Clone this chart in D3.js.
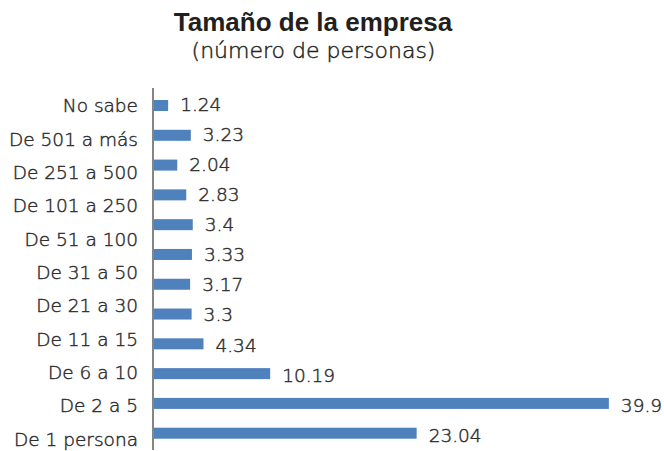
<!DOCTYPE html>
<html>
<head>
<meta charset="utf-8">
<script src="https://cdn.jsdelivr.net/npm/d3@7"></script>
<style>
  html, body { margin: 0; padding: 0; background: #ffffff; }
  svg { display: block; }
</style>
</head>
<body>
<svg id="chart" width="664" height="451"></svg>
<script>
// ---- data ----
const title = "Tamaño de la empresa";
const subtitle = "(número de personas)";
// category labels as printed (top to bottom)
const categories = ["No sabe", "De 501 a más", "De 251 a 500", "De 101 a 250", "De 51 a 100",
  "De 31 a 50", "De 21 a 30", "De 11 a 15", "De 6 a 10", "De 2 a 5", "De 1 persona"];
// bar values as printed (top to bottom)
const values = [1.24, 3.23, 2.04, 2.83, 3.4, 3.33, 3.17, 3.3, 4.34, 10.19, 39.9, 23.04];
const valueLabels = ["1.24", "3.23", "2.04", "2.83", "3.4", "3.33", "3.17", "3.3", "4.34", "10.19", "39.9", "23.04"];

// ---- layout ----
const svg = d3.select("#chart");
const axisX = 153;
const barH = 11;
const textColor = "#2e2e2e";
const barColor = "#4F81BD";
const lightFont = "'DejaVu Sans', sans-serif";

const x = d3.scaleLinear().domain([0, 40]).range([axisX + 1, axisX + 1 + 456]);
const yBar = d3.scalePoint().domain(d3.range(values.length)).range([105.5, 433.2]);
const yVal = d3.scalePoint().domain(d3.range(values.length)).range([111, 441.7]);
const yCat = d3.scalePoint().domain(categories).range([105.8, 439.2]);

function lightText(sel, size) {
  sel.attr("font-family", lightFont)
    .attr("font-weight", 300)
    .attr("font-size", size)
    .attr("fill", textColor)
    .attr("stroke", textColor)
    .attr("stroke-width", 0.45);
}

// title
svg.append("text")
  .attr("x", 313).attr("y", 30.7)
  .attr("text-anchor", "middle")
  .attr("font-family", "'Liberation Sans', Arial, sans-serif")
  .attr("font-weight", "bold")
  .attr("font-size", 26)
  .attr("fill", "#231f20")
  .text(title);
svg.append("text")
  .attr("x", 313.5).attr("y", 57.5)
  .attr("text-anchor", "middle")
  .call(lightText, 22)
  .attr("fill", "#231f20").attr("stroke", "#231f20")
  .text(subtitle);

// bars
svg.append("g").selectAll("rect")
  .data(values)
  .join("rect")
  .attr("x", x(0))
  .attr("y", (d, i) => yBar(i) - barH / 2)
  .attr("width", d => x(d) - x(0))
  .attr("height", barH)
  .attr("fill", barColor);

// value labels
svg.append("g").selectAll("text")
  .data(values)
  .join("text")
  .attr("x", d => x(d) + 12)
  .attr("y", (d, i) => yVal(i))
  .call(lightText, 18.5)
  .text((d, i) => valueLabels[i]);

// category axis
const gAxis = svg.append("g")
  .attr("transform", `translate(${axisX - 15},0)`)
  .call(d3.axisLeft(yCat).tickSize(0).tickPadding(0));
gAxis.select(".domain").remove();
gAxis.selectAll("text").call(lightText, 18.5);

// vertical axis line
svg.append("line")
  .attr("x1", axisX).attr("x2", axisX)
  .attr("y1", 88).attr("y2", 450)
  .attr("stroke", "#858585")
  .attr("stroke-width", 2);
</script>
</body>
</html>
